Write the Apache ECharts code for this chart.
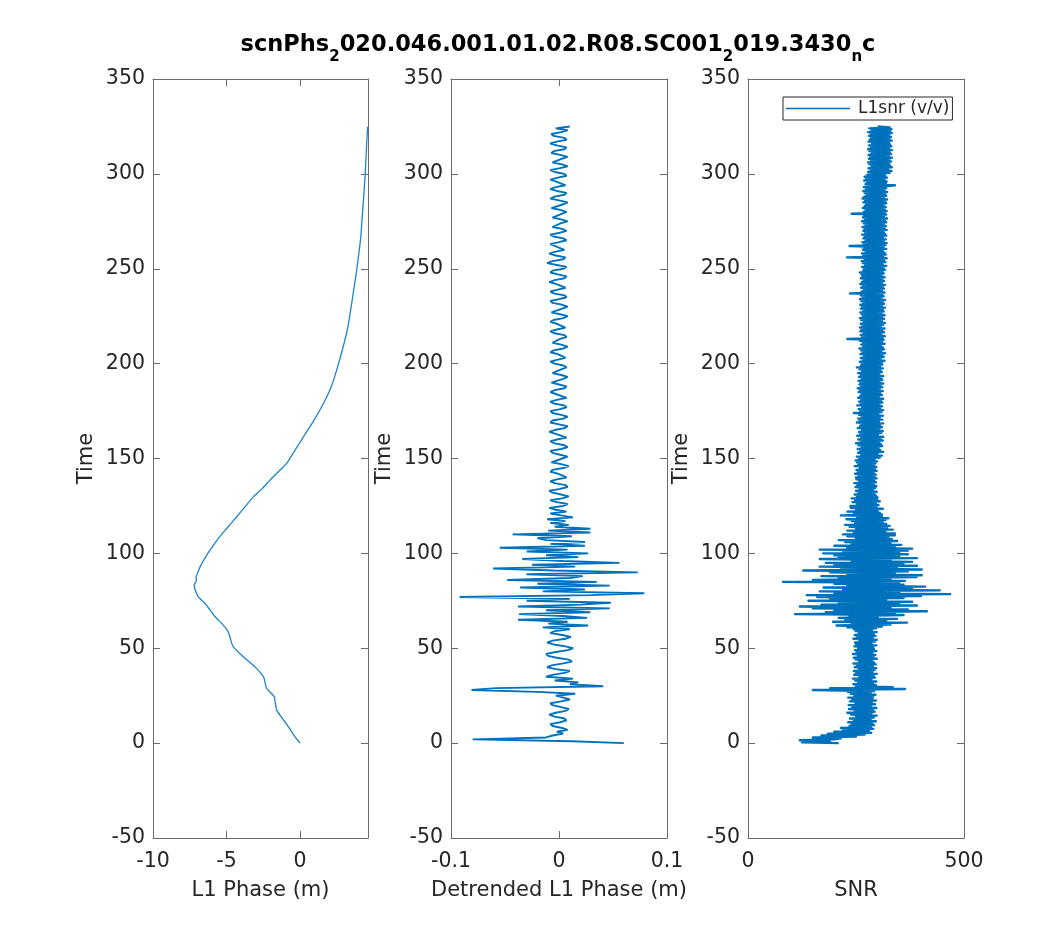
<!DOCTYPE html>
<html>
<head>
<meta charset="utf-8">
<script src="https://cdn.jsdelivr.net/npm/echarts@6/dist/echarts.min.js"></script>
<style>html,body{margin:0;padding:0;background:#fff}#c{width:1050px;height:936px}</style>
</head>
<body>
<div id="c"></div>
<script>
// ---- Data ----
// Panel 1: L1 phase (m) versus time
const phaseTime = [0,4,8.6,13,17.4,21,24.4,27,28.8,32,35,40.2,45.5,50.7,54,58.6,62.2,66.6,70,73.6,77.1,80,83.3,85.5,87.6,90,92.9,99.1,103,107.9,113.1,119.3,124.5,129.8,134,138.6,143.9,147.4,154.4,161.4,170,179,187,196.6,210.6,220,231.7,249.3,266.8,280.9,298.4,316,324.8];
const phaseVals = [0,-0.4,-0.79,-1.2,-1.59,-1.68,-1.75,-2.05,-2.27,-2.38,-2.49,-3.06,-3.86,-4.54,-4.7,-4.88,-5.22,-5.78,-6.1,-6.46,-6.92,-7.1,-7.21,-7.05,-7.07,-6.95,-6.8,-6.35,-6.0,-5.56,-4.99,-4.31,-3.75,-3.18,-2.6,-2.04,-1.36,-0.91,-0.34,0.23,0.93,1.59,2.08,2.49,2.99,3.27,3.51,3.85,4.13,4.26,4.42,4.53,4.6];

// Panel 2: detrended L1 phase (m), one value per second from t = 0 s
const detrendStep = 1;
const detrended = [
0.060,0.012,-0.080,-0.012,-0.006,0.004,-0.002,0.008,0.003,-0.006,
-0.008,0.001,0.007,0.005,-0.004,-0.009,-0.003,0.006,0.009,0.002,
-0.006,-0.008,0.002,0.010,0.004,-0.003,0.015,-0.020,-0.081,-0.058,
0.041,0.010,0.018,-0.004,0.013,-0.012,-0.006,0.005,0.010,-0.003,
-0.011,-0.007,0.004,0.012,0.009,-0.002,-0.010,-0.012,-0.003,0.008,
0.013,0.006,-0.005,-0.011,-0.006,0.006,0.011,0.003,-0.008,-0.004,
0.010,-0.015,0.027,-0.010,0.008,-0.038,0.026,0.004,-0.037,0.029,
-0.012,0.047,-0.038,0.020,0.048,-0.030,0.010,-0.092,0.030,0.079,
-0.015,0.024,-0.036,0.047,-0.020,0.035,-0.048,0.010,0.022,-0.030,
0.073,-0.005,-0.061,0.015,-0.025,0.056,0.004,-0.034,0.018,-0.012,
0.027,-0.030,0.008,-0.055,0.024,-0.008,0.024,-0.012,-0.020,0.012,
-0.043,0.029,-0.010,0.029,-0.004,0.009,-0.008,0.006,-0.011,0.013,
0.002,-0.008,0.007,-0.003,-0.009,0.004,0.008,-0.002,-0.008,0.003,
0.009,0.002,-0.006,-0.009,0.001,0.008,0.006,-0.004,-0.008,-0.002,
0.007,0.008,-0.001,-0.008,-0.006,0.004,0.009,0.002,-0.007,-0.007,
0.003,0.008,0.001,-0.006,-0.008,0.002,0.008,0.005,-0.004,-0.008,
-0.002,0.007,0.006,-0.003,-0.009,-0.004,0.005,0.008,0.000,-0.008,
-0.006,0.004,0.008,0.002,-0.006,-0.008,0.001,0.007,0.005,-0.005,
-0.008,-0.001,0.007,0.006,-0.003,-0.008,-0.004,0.005,0.007,0.000,
-0.007,-0.006,0.004,0.008,0.002,-0.006,-0.007,0.002,0.007,0.004,
-0.004,-0.008,-0.002,0.006,0.007,-0.001,-0.008,-0.005,0.004,0.008,
0.002,-0.006,-0.007,0.001,0.007,0.005,-0.004,-0.008,-0.002,0.006,
0.007,-0.002,-0.008,-0.005,0.004,0.008,0.001,-0.007,-0.006,0.003,
0.008,0.003,-0.006,-0.008,0.000,0.007,0.005,-0.005,-0.008,-0.001,
0.006,0.006,-0.003,-0.009,-0.004,0.005,0.007,-0.001,-0.008,-0.006,
0.004,0.007,-0.002,-0.011,-0.006,0.004,0.006,-0.003,-0.009,-0.003,
0.005,0.006,-0.004,-0.008,0.000,0.007,0.004,-0.005,-0.008,0.001,
0.007,0.003,-0.006,-0.007,0.002,0.008,0.002,-0.006,-0.007,0.003,
0.007,0.001,-0.007,-0.006,0.004,0.008,0.000,-0.008,-0.004,0.005,
0.007,-0.002,-0.008,-0.003,0.006,0.006,-0.003,-0.008,-0.001,0.007,
0.005,-0.004,-0.008,0.001,0.008,0.003,-0.006,-0.007,0.003,0.008,
0.001,-0.007,-0.005,0.005,0.007,-0.002,-0.008,-0.002,0.007,0.005,
-0.005,-0.007,0.002,0.008,-0.003,0.010];

// Panel 3: SNR (v/v), two values per second from t = 0 s
const snrStep = 0.5;
const snr = [
210,125,190,120,200,215,150,250,170,270,185,285,200,280,220,290,215,285,235,292,
240,288,232,296,245,284,236,291,250,298,238,286,230,293,247,289,234,297,242,285,
233,294,249,287,236,296,241,288,232,290,246,295,238,284,231,292,150,363,190,335,
250,296,244,290,255,297,248,286,243,294,258,291,246,298,250,288,245,293,256,297,
247,289,252,296,244,292,257,287,249,298,245,291,254,295,243,288,251,297,248,292,
255,290,246,297,250,286,248,294,258,298,244,289,252,295,247,291,256,298,249,287,
245,296,230,310,205,330,240,368,197,320,225,345,210,300,235,360,109,340,180,414,
200,370,150,330,120,391,170,350,210,380,140,320,190,360,160,400,136,468,200,350,
166,444,220,380,175,410,230,360,200,350,81,363,150,330,210,390,170,402,230,340,
190,370,128,402,215,345,166,391,200,360,180,380,240,330,166,391,210,350,200,370,
174,350,220,370,166,380,230,340,200,355,240,330,225,345,210,333,250,325,230,340,
220,340,245,318,230,335,250,322,235,328,225,320,248,312,240,318,228,325,252,310,
215,310,245,305,230,300,250,312,238,298,237,302,252,296,242,305,248,299,240,300,
252,296,247,293,255,298,250,290,258,295,249,297,253,291,246,296,257,292,251,298,
250,293,256,296,248,291,254,298,251,294,259,297,247,292,255,295,252,299,249,293,
257,305,252,310,262,300,255,313,260,306,254,302,263,311,256,308,250,304,261,312,
255,307,262,313,253,301,260,309,257,312,264,304,254,310,259,306,262,313,252,303,
258,311,255,305,263,312,257,302,245,309,260,313,256,306,264,310,253,304,261,311,
257,308,262,313,255,303,260,310,263,306,256,312,259,305,254,311,262,307,258,313,
260,305,256,311,263,308,257,313,261,304,255,310,264,307,258,312,252,306,262,311,
263,310,259,316,266,307,261,314,268,311,260,317,265,309,262,315,258,312,267,308,
262,316,266,310,259,314,230,312,264,317,261,309,267,315,260,311,263,316,259,308,
265,313,261,317,268,310,262,315,259,311,266,316,263,309,260,314,267,312,261,317,
264,310,260,315,267,312,262,317,259,309,265,314,261,311,236,316,263,310,268,315,
262,312,266,317,260,310,264,315,268,311,261,316,265,309,263,314,259,312,267,317,
268,314,264,320,271,312,266,318,263,315,270,321,229,313,267,319,264,316,272,312,
266,320,269,314,235,318,268,321,265,315,272,319,267,313,270,320,264,317,271,314,
267,321,270,316,265,319,272,314,268,320,264,317,271,322,266,315,269,320,240,318,
268,321,272,316,266,319,270,314,273,320,267,317,271,322,265,315,269,320,274,318,
270,322,267,316,273,320,268,317,340,272,319,275,321,269,316,273,322,270,318,276,
280,328,278,332,284,325,279,333,286,329,281,326,278,331,285,327,280,333,283,326,
279,331,286,328,281,333,278,327,284,332,280,329,287,326,279,333,282,328,285,331,
280,327,284,333,278,329,286,332,281,328,300];

// Axis settings
const timeMin = -50, timeMax = 350, timeInterval = 50;
const xRanges = [
  {min: -10, max: 4.62, interval: 5, name: 'L1 Phase (m)'},
  {min: -0.1, max: 0.1, interval: 0.1, name: 'Detrended L1 Phase (m)'},
  {min: 0, max: 500, interval: 500, name: 'SNR'}
];
const titleParts = ['scnPhs', '2', '020.046.001.01.02.R08.SC001', '2', '019.3430', 'n', 'c'];
const legendLabel = 'L1snr (v/v)';

// ---- Build chart ----
const FONT = 'DejaVu Sans';
const TXT = '#262626';
const AX = '#6b6b6b';
const BLUE = '#0072BD';
const grids = [
  {left: 153, top: 79, width: 215, height: 759},
  {left: 451, top: 79, width: 216, height: 759},
  {left: 748, top: 79, width: 216, height: 759}
];
const xAxes = [], yAxes = [];
xRanges.forEach((r, i) => {
  const common = {type: 'value', gridIndex: i, min: r.min, max: r.max, interval: r.interval,
    splitLine: {show: false},
    axisLine: {show: true, onZero: false, lineStyle: {color: AX, width: 1}},
    axisTick: {show: true, inside: true, length: 7, lineStyle: {color: AX, width: 1}}};
  xAxes.push(Object.assign({}, common, {position: 'bottom',
    axisLabel: {show: true, color: TXT, fontFamily: FONT, fontSize: 20.5, margin: 13, showMaxLabel: i !== 0,
      formatter: v => String(+v.toFixed(4))},
    name: r.name, nameLocation: 'middle', nameGap: 42,
    nameTextStyle: {color: TXT, fontFamily: FONT, fontSize: 21}}));
  xAxes.push(Object.assign({}, common, {position: 'top', axisLabel: {show: false}}));
  const ycommon = {type: 'value', gridIndex: i, min: timeMin, max: timeMax, interval: timeInterval,
    splitLine: {show: false},
    axisLine: {show: true, onZero: false, lineStyle: {color: AX, width: 1}},
    axisTick: {show: true, inside: true, length: 7, lineStyle: {color: AX, width: 1}}};
  yAxes.push(Object.assign({}, ycommon, {position: 'left',
    axisLabel: {show: true, color: TXT, fontFamily: FONT, fontSize: 20.5, margin: 8,
      verticalAlign: 'middle', padding: [6, 0, 0, 0]},
    name: 'Time', nameLocation: 'middle', nameGap: 56, nameRotate: 90,
    nameTextStyle: {color: TXT, fontFamily: FONT, fontSize: 21}}));
  yAxes.push(Object.assign({}, ycommon, {position: 'right', axisLabel: {show: false}}));
});

const phaseData = phaseVals.map((v, i) => [v, phaseTime[i]]);
const detData = detrended.map((v, i) => [v, i * detrendStep]);
const snrData = snr.map((v, i) => [v, i * snrStep]);

const richTitle = titleParts.map((p, i) => (i % 2 === 0 ? '{b|' : '{s|') + p + '}').join('');

const chart = echarts.init(document.getElementById('c'), null, {renderer: 'canvas'});
chart.setOption({
  animation: false,
  backgroundColor: '#fff',
  title: {
    text: richTitle, left: 558, top: 26, textAlign: 'center', padding: 0,
    textStyle: {
      rich: {
        b: {fontFamily: FONT, fontSize: 22.5, fontWeight: 'bold', color: '#000'},
        s: {fontFamily: FONT, fontSize: 15, fontWeight: 'bold', color: '#000', padding: [24, 0, 0, 0]}
      }
    }
  },
  legend: {
    data: [{name: legendLabel, icon: 'rect'}],
    left: 783, top: 97, orient: 'horizontal',
    itemWidth: 64, itemHeight: 1.5, itemGap: 6,
    borderColor: '#262626', borderWidth: 1, backgroundColor: '#fff',
    padding: [3, 3, 3, 3],
    textStyle: {color: TXT, fontFamily: FONT, fontSize: 17, padding: [0, 0, 0, 3]}
  },
  grid: grids,
  xAxis: xAxes,
  yAxis: yAxes,
  series: [
    {type: 'line', name: 'L1 Phase', xAxisIndex: 0, yAxisIndex: 0, data: phaseData, smooth: 0.2,
      showSymbol: false, symbol: 'none', lineStyle: {color: '#1f82cc', width: 1.3}, itemStyle: {color: BLUE}},
    {type: 'line', name: 'Detrended', xAxisIndex: 2, yAxisIndex: 2, data: detData,
      showSymbol: false, symbol: 'none', lineStyle: {color: BLUE, width: 1.9}, itemStyle: {color: BLUE}},
    {type: 'line', name: legendLabel, xAxisIndex: 4, yAxisIndex: 4, data: snrData,
      showSymbol: false, symbol: 'none', lineStyle: {color: BLUE, width: 2.4, join: 'round'}, itemStyle: {color: BLUE}}
  ]
});
</script>
</body>
</html>
